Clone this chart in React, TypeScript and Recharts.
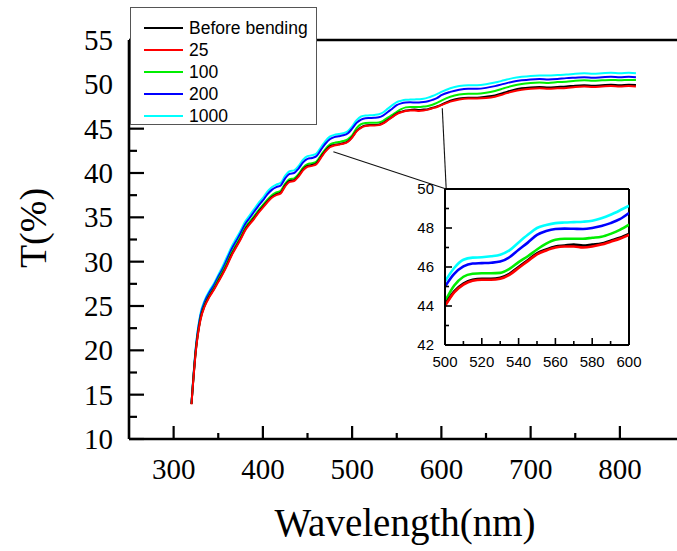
import React from 'react';
import { LineChart, Line, XAxis, YAxis, ReferenceLine, Label } from 'recharts';

const wavelength = [
  320, 325, 330, 335, 340, 345, 350, 355, 360, 365, 370, 375, 380, 385, 390, 395,
  400, 405, 410, 415, 420, 425, 430, 435, 440, 445, 450, 455, 460, 465, 470, 475,
  480, 485, 490, 495, 500, 505, 510, 515, 520, 525, 530, 535, 540, 545, 550, 555,
  560, 565, 570, 575, 580, 585, 590, 595, 600, 610, 620, 630, 640, 650, 660, 670,
  680, 690, 700, 710, 720, 730, 740, 750, 760, 770, 780, 790, 800, 810, 818,
];

const beforeBending = [
  13.95, 20.1, 23.5, 25.1, 26.1, 26.9, 27.8, 28.7, 29.7, 30.8, 31.7, 32.6, 33.6, 34.3, 34.9, 35.6,
  36.2, 36.8, 37.3, 37.6, 37.8, 38.6, 39.1, 39.2, 39.7, 40.4, 40.8, 40.9, 41.1, 41.8, 42.5, 43.0,
  43.15, 43.25, 43.35, 43.55, 44.05, 44.75, 45.15, 45.35, 45.4, 45.4, 45.45, 45.65, 46.0, 46.35, 46.7, 46.9,
  47.05, 47.1, 47.15, 47.1, 47.15, 47.2, 47.35, 47.5, 47.7, 48.15, 48.4, 48.5, 48.5, 48.6, 48.75, 49.05,
  49.35, 49.55, 49.65, 49.7, 49.65, 49.7, 49.75, 49.85, 49.9, 49.85, 49.9, 49.95, 49.9, 49.95, 49.93,
];

const cycles25 = [
  13.9, 20.0, 23.4, 25.0, 26.0, 26.8, 27.7, 28.6, 29.6, 30.7, 31.6, 32.5, 33.5, 34.2, 34.8, 35.5,
  36.1, 36.7, 37.2, 37.5, 37.7, 38.5, 39.0, 39.1, 39.6, 40.3, 40.7, 40.8, 41.0, 41.7, 42.4, 42.9,
  43.1, 43.2, 43.3, 43.5, 44.0, 44.7, 45.1, 45.3, 45.35, 45.35, 45.4, 45.6, 45.95, 46.3, 46.65, 46.85,
  47.0, 47.05, 47.05, 47.0, 47.05, 47.15, 47.3, 47.45, 47.65, 48.05, 48.3, 48.4, 48.4, 48.45, 48.6, 48.9,
  49.2, 49.4, 49.5, 49.55, 49.5, 49.55, 49.6, 49.7, 49.75, 49.7, 49.75, 49.8, 49.75, 49.8, 49.75,
];

const cycles100 = [
  13.95, 20.2, 23.6, 25.2, 26.2, 27.0, 28.0, 28.9, 29.9, 31.0, 31.9, 32.8, 33.8, 34.5, 35.1, 35.8,
  36.4, 37.0, 37.5, 37.8, 38.0, 38.8, 39.3, 39.4, 39.9, 40.6, 41.0, 41.1, 41.3, 42.0, 42.7, 43.2,
  43.4, 43.5, 43.6, 43.8, 44.23, 45.05, 45.5, 45.65, 45.68, 45.68, 45.7, 45.9, 46.25, 46.55, 46.9, 47.2,
  47.4, 47.45, 47.45, 47.45, 47.5, 47.55, 47.7, 47.9, 48.17, 48.6, 48.85, 48.95, 48.95, 49.05, 49.25, 49.55,
  49.85, 50.05, 50.15, 50.2, 50.15, 50.25, 50.3, 50.4, 50.45, 50.4, 50.45, 50.5, 50.45, 50.5, 50.5,
];

const cycles200 = [
  14.0, 20.4, 23.9, 25.5, 26.5, 27.3, 28.3, 29.2, 30.3, 31.4, 32.3, 33.2, 34.2, 34.9, 35.6, 36.3,
  36.9, 37.6, 38.1, 38.4, 38.6, 39.4, 39.9, 40.0, 40.5, 41.2, 41.6, 41.7, 41.9, 42.6, 43.3, 43.8,
  44.05, 44.15, 44.25, 44.45, 45.0, 45.65, 46.03, 46.18, 46.2, 46.22, 46.28, 46.5, 46.88, 47.25, 47.65, 47.85,
  47.95, 47.97, 47.96, 47.95, 48.0, 48.1, 48.25, 48.45, 48.77, 49.15, 49.4, 49.5, 49.5, 49.6, 49.8, 50.05,
  50.3, 50.45, 50.55, 50.6, 50.55, 50.6, 50.7, 50.75, 50.8, 50.75, 50.8, 50.85, 50.8, 50.85, 50.8,
];

const cycles1000 = [
  14.05, 20.5, 24.1, 25.7, 26.7, 27.5, 28.5, 29.5, 30.6, 31.7, 32.6, 33.5, 34.5, 35.2, 35.9, 36.6,
  37.2, 37.9, 38.4, 38.7, 38.9, 39.7, 40.2, 40.3, 40.8, 41.5, 41.9, 42.0, 42.2, 42.9, 43.6, 44.1,
  44.3, 44.4, 44.5, 44.7, 45.26, 45.95, 46.37, 46.48, 46.5, 46.55, 46.63, 46.85, 47.26, 47.65, 48.0, 48.15,
  48.25, 48.28, 48.3, 48.32, 48.37, 48.5, 48.68, 48.9, 49.14, 49.55, 49.8, 49.9, 49.9, 50.0, 50.2, 50.45,
  50.7, 50.85, 50.95, 51.0, 51.0, 51.05, 51.1, 51.2, 51.25, 51.2, 51.25, 51.3, 51.25, 51.3, 51.25,
];

const mainXTicks = [300, 350, 400, 450, 500, 550, 600, 650, 700, 750, 800];
const mainYTicks = [10, 12.5, 15, 17.5, 20, 22.5, 25, 27.5, 30, 32.5, 35, 37.5, 40, 42.5, 45, 47.5, 50, 52.5, 55];
const insetXTicks = [500, 510, 520, 530, 540, 550, 560, 570, 580, 590, 600];
const insetYTicks = [42, 43, 44, 45, 46, 47, 48, 49, 50];

const legendNames = ['Before bending', '25', '100', '200', '1000'];
const seriesKeys = ['before', 's25', 's100', 's200', 's1000'];
const seriesColors = ['#000000', '#ff0000', '#00ee00', '#0000ff', '#00ffff'];
const drawOrder = [4, 3, 2, 0, 1];

const data = wavelength.map((w, i) => ({
  w,
  before: beforeBending[i],
  s25: cycles25[i],
  s100: cycles100[i],
  s200: cycles200[i],
  s1000: cycles1000[i],
}));
const insetData = data.filter((d) => d.w >= 500 && d.w <= 600);

const SERIF = '"Liberation Serif", "Times New Roman", serif';
const SANS = '"Liberation Sans", Arial, sans-serif';

const MainXTick = (props: any) => {
  const { x, y, payload } = props;
  const v = payload.value;
  const major = v % 100 === 0;
  return (
    <g>
      <line x1={x} x2={x} y1={y} y2={y - (major ? 13 : 6)} stroke="#000" strokeWidth={2.2} />
      {major && (
        <text x={x} y={y + 40} textAnchor="middle" fontFamily={SERIF} fontSize={29} fill="#000">
          {v}
        </text>
      )}
    </g>
  );
};

const MainYTick = (props: any) => {
  const { x, y, payload } = props;
  const v = payload.value;
  const major = v % 5 === 0;
  return (
    <g>
      <line x1={x} x2={x + (major ? 15 : 8)} y1={y} y2={y} stroke="#000" strokeWidth={2.2} />
      {major && (
        <text x={x - 16} y={y} dy="0.35em" textAnchor="end" fontFamily={SERIF} fontSize={29} fill="#000">
          {v}
        </text>
      )}
    </g>
  );
};

const InsetXTick = (props: any) => {
  const { x, y, payload } = props;
  const v = payload.value;
  const major = v % 20 === 0;
  return (
    <g>
      <line x1={x} x2={x} y1={y} y2={y - (major ? 7 : 4)} stroke="#000" strokeWidth={1.6} />
      {major && (
        <text x={x} y={y + 22} textAnchor="middle" fontFamily={SANS} fontSize={15} fill="#000">
          {v}
        </text>
      )}
    </g>
  );
};

const InsetYTick = (props: any) => {
  const { x, y, payload } = props;
  const v = payload.value;
  const major = v % 2 === 0;
  return (
    <g>
      <line x1={x} x2={x + (major ? 7 : 4)} y1={y} y2={y} stroke="#000" strokeWidth={1.6} />
      {major && (
        <text x={x - 11} y={y} dy="0.35em" textAnchor="end" fontFamily={SANS} fontSize={15} fill="#000">
          {v}
        </text>
      )}
    </g>
  );
};

export default function App() {
  return (
    <div style={{ position: 'absolute', left: 0, top: 0, width: 677, height: 551, background: '#fff', overflow: 'hidden' }}>
      <div style={{ position: 'absolute', left: 0, top: 0 }}>
        <LineChart width={677} height={551} data={data} margin={{ top: 40, right: 0, bottom: 0, left: 0 }}>
          <XAxis
            dataKey="w"
            type="number"
            domain={[250, 864]}
            ticks={mainXTicks}
            interval={0}
            tick={<MainXTick />}
            tickLine={false}
            tickSize={0}
            tickMargin={0}
            height={112}
            axisLine={{ stroke: '#000', strokeWidth: 2.6 }}
            allowDataOverflow
          >
            <Label
              content={() => (
                <text x={405} y={536} textAnchor="middle" fontFamily={SERIF} fontSize={39} fill="#000">
                  Wavelength(nm)
                </text>
              )}
            />
          </XAxis>
          <YAxis
            type="number"
            domain={[10, 55]}
            ticks={mainYTicks}
            interval={0}
            tick={<MainYTick />}
            tickLine={false}
            tickSize={0}
            tickMargin={0}
            width={129}
            axisLine={{ stroke: '#000', strokeWidth: 2.6 }}
            allowDataOverflow
          >
            <Label
              content={() => (
                <text
                  x={33}
                  y={228}
                  transform="rotate(-90 33 228)"
                  textAnchor="middle"
                  dominantBaseline="central"
                  fontFamily={SERIF}
                  fontSize={38}
                  fill="#000"
                >
                  T(%)
                </text>
              )}
            />
          </YAxis>
          <ReferenceLine y={55} stroke="#000" strokeWidth={2.6} />
          <ReferenceLine
            segment={[{ x: 479, y: 42.4 }, { x: 605.4, y: 38.2 }]}
            stroke="#111"
            strokeWidth={1.1}
          />
          <ReferenceLine
            segment={[{ x: 601, y: 47.3 }, { x: 605.4, y: 38.2 }]}
            stroke="#111"
            strokeWidth={1.1}
          />
          {drawOrder.map((i) => (
            <Line
              key={seriesKeys[i]}
              dataKey={seriesKeys[i]}
              name={legendNames[i]}
              stroke={seriesColors[i]}
              strokeWidth={2}
              dot={false}
              type="monotone"
              isAnimationActive={false}
            />
          ))}
        </LineChart>
      </div>

      <div style={{ position: 'absolute', left: 380, top: 170 }}>
        <LineChart width={290} height={210} data={insetData} margin={{ top: 19, right: 41, bottom: 0, left: 0 }}>
          <XAxis
            dataKey="w"
            type="number"
            domain={[500, 600]}
            ticks={insetXTicks}
            interval={0}
            tick={<InsetXTick />}
            tickLine={false}
            tickSize={0}
            tickMargin={0}
            height={35}
            axisLine={{ stroke: '#000', strokeWidth: 2 }}
            allowDataOverflow
          />
          <YAxis
            type="number"
            domain={[42, 50]}
            ticks={insetYTicks}
            interval={0}
            tick={<InsetYTick />}
            tickLine={false}
            tickSize={0}
            tickMargin={0}
            width={65}
            axisLine={{ stroke: '#000', strokeWidth: 2 }}
            allowDataOverflow
          />
          <ReferenceLine y={50} stroke="#000" strokeWidth={2} />
          <ReferenceLine x={600} stroke="#000" strokeWidth={2} />
          {drawOrder.map((i) => (
            <Line
              key={seriesKeys[i]}
              dataKey={seriesKeys[i]}
              stroke={seriesColors[i]}
              strokeWidth={2.6}
              dot={false}
              type="monotone"
              isAnimationActive={false}
            />
          ))}
        </LineChart>
      </div>

      <div
        style={{
          position: 'absolute',
          left: 130,
          top: 7,
          width: 187,
          height: 118,
          boxSizing: 'border-box',
          border: '1px solid #555',
          background: '#fff',
          fontFamily: SANS,
          fontSize: 17.5,
          color: '#000',
        }}
      >
        {legendNames.map((name, i) => (
          <div
            key={name}
            style={{ position: 'absolute', left: 13, top: 9 + i * 22, height: 22, display: 'flex', alignItems: 'center' }}
          >
            <div style={{ width: 39, height: 0, borderTop: `2px solid ${seriesColors[i]}`, marginRight: 6 }} />
            <span style={{ lineHeight: '22px', whiteSpace: 'nowrap' }}>{name}</span>
          </div>
        ))}
      </div>
    </div>
  );
}
